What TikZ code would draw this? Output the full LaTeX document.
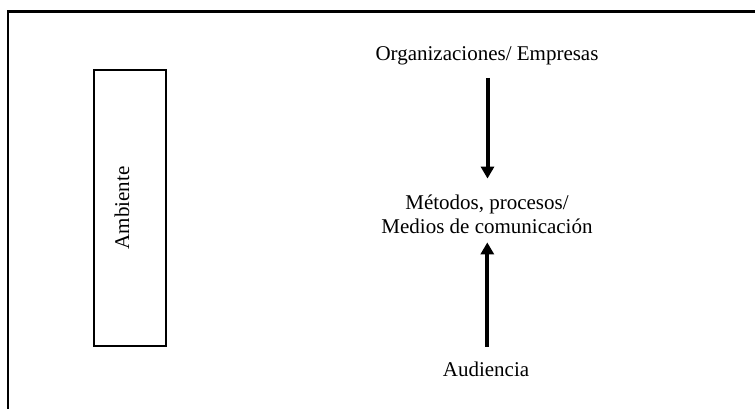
\documentclass[tikz,border=0pt]{standalone}
\usepackage{fontspec}
\setmainfont{Liberation Serif}
\usetikzlibrary{arrows.meta}
\tikzset{
  lbl/.style={inner sep=0pt, outer sep=0pt, font=\fontsize{21}{24}\selectfont, align=center},
  flow/.style={line width=4pt, -{Triangle[width=13pt,length=12pt]}},
  frameline/.style={line width=2.2pt},
  ambbox/.style={draw, line width=2.4pt, minimum width=72pt, minimum height=276pt, inner sep=0pt}
}
\begin{document}
\begin{tikzpicture}[x=1pt,y=1pt]
\useasboundingbox (0,0) rectangle (755,409);
% outer frame (only top and left edges visible)
\coordinate (fbl) at (8,-2);
\coordinate (ftl) at (8,397.5);
\coordinate (ftr) at (757,397.5);
\draw[frameline] (fbl) -- (ftl) -- (ftr);
% Ambiente box
\node[ambbox] (amb) at (130,201) {};
\node[lbl, rotate=90, anchor=base] (ambt) at (129,201) {Ambiente};
% text nodes
\node[lbl, anchor=base] (org) at (487,348.3) {Organizaciones/ Empresas};
\node[lbl] (met) at (487,194.5) {Métodos, procesos/\\Medios de comunicación};
\node[lbl, anchor=base] (aud) at (486,32.3) {Audiencia};
% arrows
\draw[flow, shorten <=12.7pt, shorten >=16.5pt] (org.south -| 487.5,0) -- (met.north -| 487.5,0);
\draw[flow, shorten <=15.4pt, shorten >=8.5pt] (aud.north -| 487.3,0) -- (met.south -| 487.3,0);
\end{tikzpicture}
\end{document}
